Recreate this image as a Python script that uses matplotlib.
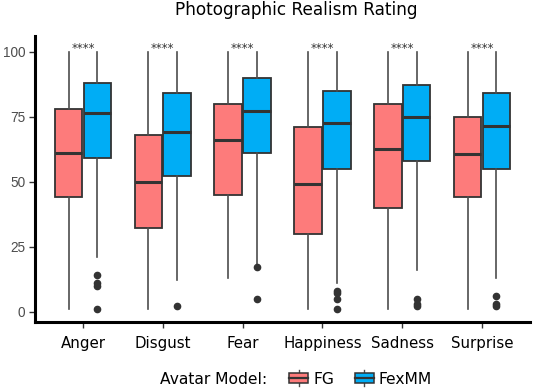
import numpy as np
import matplotlib
matplotlib.use("Agg")
import matplotlib.pyplot as plt
from matplotlib.patches import Patch, Rectangle
from matplotlib.lines import Line2D
from matplotlib.legend_handler import HandlerBase

# =========================
# data
# =========================
emotions = ["Anger", "Disgust", "Fear", "Happiness", "Sadness", "Surprise"]
models = ["FG", "FexMM"]

fg_q1 = [44, 32, 45, 30, 40, 44]
fg_med = [61, 50, 66, 49, 62.5, 60.5]
fg_q3 = [78, 68, 80, 71, 80, 75]
fg_lo = [1, 1, 13, 1, 1, 1]
fg_hi = [100, 100, 100, 100, 100, 100]
fg_out = [[], [], [], [], [], []]

fx_q1 = [59, 52, 61, 55, 58, 55]
fx_med = [76.5, 69, 77, 72.5, 75, 71.5]
fx_q3 = [88, 84, 90, 85, 87, 84]
fx_lo = [21, 12, 17.5, 11, 16, 13]
fx_hi = [100, 100, 100, 100, 100, 100]
fx_out = [[14, 11, 10, 1], [2], [17, 5], [8, 7, 5, 1], [5, 3, 2], [6, 3, 2]]

signif = ["****"] * 6

colors = {"FG": "#FD7B7B", "FexMM": "#00ADF5"}
edge = "#333333"


def make_stats(q1, med, q3, lo, hi, out):
    return [dict(q1=a, med=b, q3=c, whislo=d, whishi=e, fliers=f)
            for a, b, c, d, e, f in zip(q1, med, q3, lo, hi, out)]


class BoxHandler(HandlerBase):
    # маленький boxplot в легенде
    def create_artists(self, legend, orig_handle, xdescent, ydescent,
                       width, height, fontsize, trans):
        cx = width / 2 - xdescent
        b0 = -ydescent + height * 0.05
        b1 = -ydescent + height * 0.95
        rect = Rectangle((-xdescent, b0), width, b1 - b0,
                         facecolor=orig_handle.get_facecolor(),
                         edgecolor=edge, lw=1.1, transform=trans)
        mid = (b0 + b1) / 2
        med = Line2D([-xdescent, -xdescent + width], [mid, mid],
                     color=edge, lw=1.6, transform=trans)
        w1 = Line2D([cx, cx], [b1, b1 + height * 0.3], color="#4D4D4D",
                    lw=1.0, transform=trans)
        w2 = Line2D([cx, cx], [b0, b0 - height * 0.3], color="#4D4D4D",
                    lw=1.0, transform=trans)
        return [w1, w2, rect, med]


fig = plt.figure(figsize=(5.33, 3.9), dpi=100)
ax = fig.add_axes([35 / 533, 1 - 322 / 390, 495 / 533, 286 / 390])

x = np.arange(len(emotions))
off = 0.18
width = 0.345

for stats, pos, m in [
    (make_stats(fg_q1, fg_med, fg_q3, fg_lo, fg_hi, fg_out), x - off, "FG"),
    (make_stats(fx_q1, fx_med, fx_q3, fx_lo, fx_hi, fx_out), x + off, "FexMM"),
]:
    ax.bxp(stats, positions=pos, widths=width, patch_artist=True,
           showcaps=False,
           boxprops=dict(facecolor=colors[m], edgecolor=edge, lw=1.3),
           medianprops=dict(color=edge, lw=2.2, solid_capstyle="butt"),
           whiskerprops=dict(color="#4D4D4D", lw=1.2),
           flierprops=dict(marker="o", markersize=4.5,
                           markerfacecolor=edge, markeredgecolor=edge))

for xi, s in zip(x, signif):
    ax.text(xi, 100, s, ha="center", va="baseline", fontsize=8.5,
            color="#333333")

ax.set_xlim(-0.6, 5.6)
ax.set_ylim(-3.96, 106)
ax.set_xticks(x)
ax.set_xticklabels(emotions, fontsize=10.8, color="black")
ax.set_yticks([0, 25, 50, 75, 100])
ax.set_yticklabels(["0", "25", "50", "75", "100"], fontsize=9.8,
                   color="#4D4D4D", family="Liberation Sans")
ax.tick_params(axis="x", length=4, width=1, color="#333333", pad=6)
ax.tick_params(axis="y", length=4, width=1, color="#333333", pad=3)

for sp in ["top", "right"]:
    ax.spines[sp].set_visible(False)
for sp in ["left", "bottom"]:
    ax.spines[sp].set_linewidth(2.2)
    ax.spines[sp].set_color("black")

fig.text(0.556, 1 - 15 / 390, "Photographic Realism Rating",
         ha="center", va="baseline", fontsize=12.2)

# легенда
fig.text(160 / 533, 1 - 379 / 390, "Avatar Model:", ha="left",
         va="center", fontsize=11.2)
handles = [Patch(facecolor=colors[m], label=m) for m in models]
fig.legend(handles=handles, handler_map={Patch: BoxHandler()},
           loc="center left", bbox_to_anchor=(289 / 533, 1 - 379 / 390),
           ncol=2, frameon=False, fontsize=11.2, borderpad=0,
           borderaxespad=0, handlelength=1.24, handleheight=0.7,
           handletextpad=0.33, columnspacing=1.3)

fig.savefig("out.png", dpi=100)
